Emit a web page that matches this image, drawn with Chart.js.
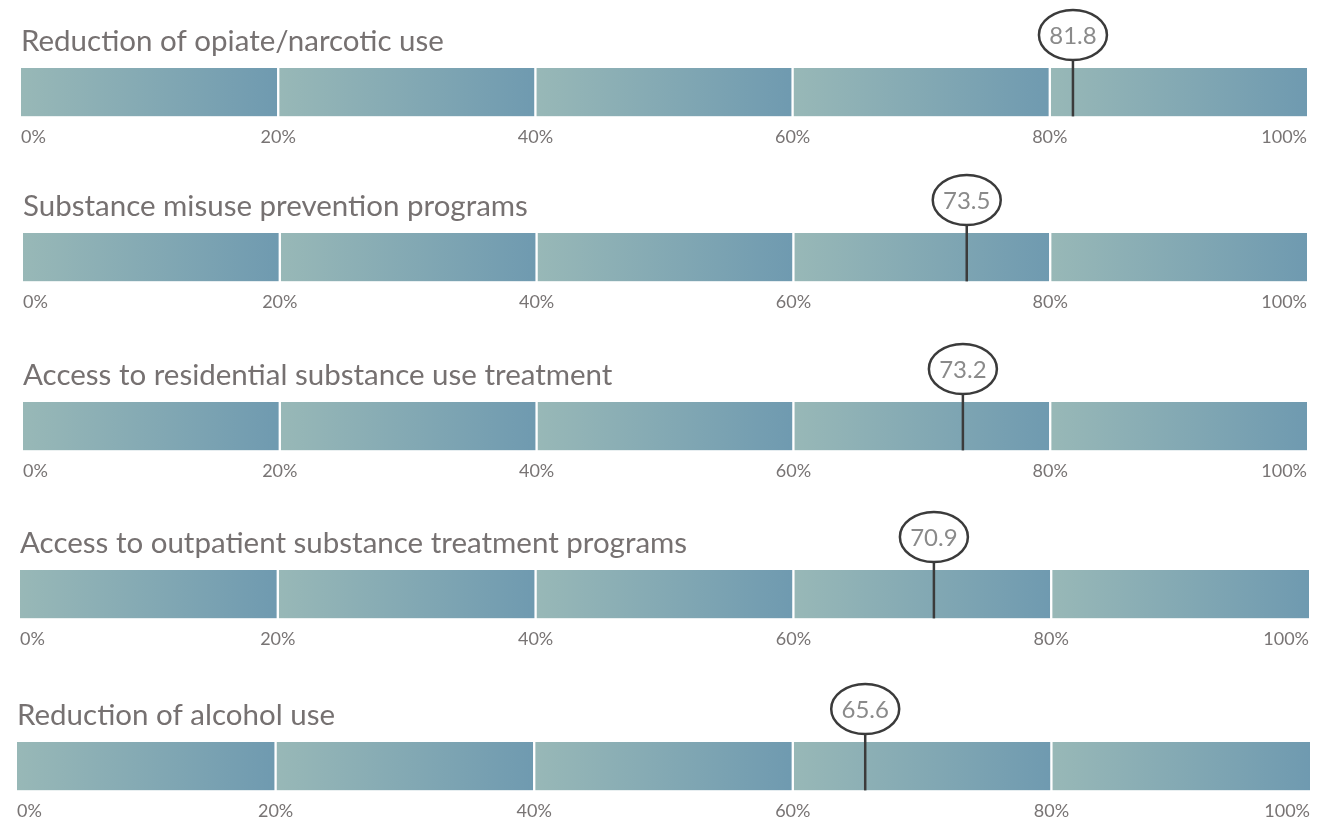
<!DOCTYPE html>
<html>
<head>
<meta charset="utf-8">
<title>Substance use priorities</title>
<script src="https://cdn.jsdelivr.net/npm/chart.js@4"></script>
<style>
    html, body { margin: 0; padding: 0; background: #fff; }
    body { width: 1340px; height: 825px; position: relative; overflow: hidden; }
    .row { position: absolute; left: 0; width: 1340px; height: 151px; }
</style>
</head>
<body>
<div id="rows"></div>
<script>
// chart data
const categories = [
    "Reduction of opiate/narcotic use",
    "Substance misuse prevention programs",
    "Access to residential substance use treatment",
    "Access to outpatient substance treatment programs",
    "Reduction of alcohol use",
];
const scores = [81.8, 73.5, 73.2, 70.9, 65.6];
const bandEdges = [0, 20, 40, 60, 80, 100];
const tickLabels = ["0%", "20%", "40%", "60%", "80%", "100%"];

// where each bar sits on the page (top edge, left and right ends)
const rowBoxes = [
    { top: 68, left: 21, right: 1307 },
    { top: 233, left: 23, right: 1307 },
    { top: 402, left: 23, right: 1307 },
    { top: 570, left: 20, right: 1309 },
    { top: 742, left: 17, right: 1310 },
];

const FONT = "Lato, 'Open Sans', sans-serif";
const GRAD_FROM = "#98b8b7";
const GRAD_TO = "#6f9ab0";

// draws the pin and the oval with the score
const scoreMarker = {
    id: "scoreMarker",
    afterDatasetsDraw(chart, args, opts) {
        const { ctx, chartArea, scales } = chart;
        const x = scales.x.getPixelForValue(opts.value);
        const cy = chartArea.top - 33;
        const rx = 34, ry = 25;

        ctx.save();
        ctx.strokeStyle = "#3b3b3b";
        ctx.lineWidth = 2.5;
        ctx.beginPath();
        ctx.moveTo(x, chartArea.bottom);
        ctx.lineTo(x, cy + ry);
        ctx.stroke();

        ctx.beginPath();
        ctx.ellipse(x, cy, rx, ry, 0, 0, Math.PI * 2);
        ctx.fillStyle = "#fff";
        ctx.fill();
        ctx.stroke();

        ctx.fillStyle = "#8a8a8a";
        ctx.font = "24px " + FONT;
        ctx.textAlign = "center";
        ctx.textBaseline = "middle";
        ctx.fillText(opts.value.toFixed(1), x, cy + 1);
        ctx.restore();
    },
};

const bandFill = (c) => {
    const chart = c.chart;
    const xs = chart.scales.x;
    if (!xs || !chart.chartArea) return GRAD_TO;
    const i = c.datasetIndex;
    const x0 = xs.getPixelForValue(bandEdges[i]);
    const x1 = xs.getPixelForValue(bandEdges[i + 1]);
    const g = chart.ctx.createLinearGradient(x0, 0, x1, 0);
    g.addColorStop(0, GRAD_FROM);
    g.addColorStop(1, GRAD_TO);
    return g;
};

const holder = document.getElementById("rows");

categories.forEach((name, r) => {
    const box = rowBoxes[r];
    const wrap = document.createElement("div");
    wrap.className = "row";
    wrap.style.top = (box.top - 61) + "px";
    const canvas = document.createElement("canvas");
    wrap.appendChild(canvas);
    holder.appendChild(wrap);

    // one stacked dataset per 20% band
    const datasets = bandEdges.slice(0, -1).map((from, i) => ({
        label: tickLabels[i],
        data: [bandEdges[i + 1] - from],
        backgroundColor: bandFill,
        borderColor: "#ffffff",
        borderWidth: {
            left: i === 0 ? 0 : 1.5,
            right: i === bandEdges.length - 2 ? 0 : 1.5,
            top: 0,
            bottom: 0,
        },
        borderSkipped: false,
        categoryPercentage: 1,
        barPercentage: 1,
    }));

    new Chart(canvas, {
        type: "bar",
        data: { labels: [name], datasets: datasets },
        options: {
            indexAxis: "y",
            responsive: true,
            maintainAspectRatio: false,
            animation: false,
            layout: {
                padding: { left: box.left, right: 1340 - box.right, top: 0, bottom: 0 },
            },
            scales: {
                x: {
                    stacked: true,
                    min: 0,
                    max: 100,
                    grid: { display: false, drawTicks: false },
                    border: { display: false },
                    ticks: {
                        stepSize: 20,
                        padding: 10,
                        align: "inner",
                        color: "#787474",
                        font: { family: FONT, size: 18 },
                        callback: (v) => tickLabels[bandEdges.indexOf(v)],
                    },
                },
                y: {
                    stacked: true,
                    display: false,
                },
            },
            plugins: {
                legend: { display: false },
                tooltip: { enabled: false },
                title: {
                    display: true,
                    text: name,
                    align: "start",
                    color: "#767171",
                    font: { family: FONT, size: 29.5, weight: "normal", lineHeight: 1 },
                    padding: { top: 20, bottom: 11.5 },
                },
                scoreMarker: { value: scores[r] },
            },
        },
        plugins: [scoreMarker],
    });
});
</script>
</body>
</html>
